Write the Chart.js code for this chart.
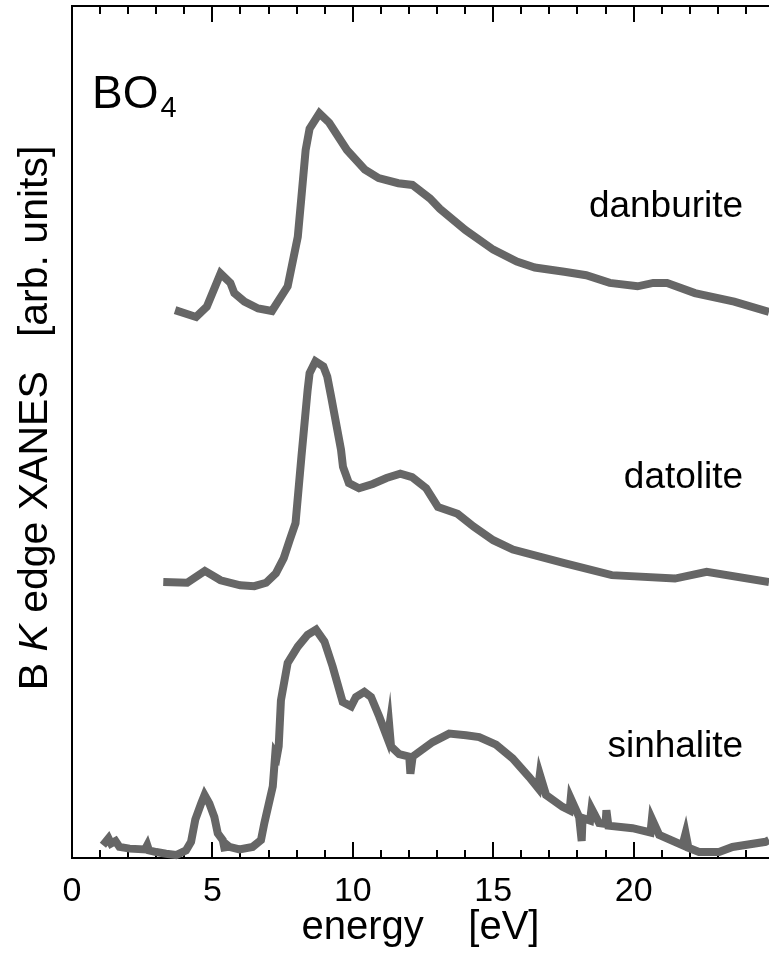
<!DOCTYPE html>
<html>
<head>
<meta charset="utf-8">
<title>B K-edge XANES of BO4 minerals</title>
<script src="https://cdn.jsdelivr.net/npm/chart.js@4.4.1/dist/chart.umd.min.js"></script>
<style>
  html, body { margin: 0; padding: 0; background: #fff; }
  #xanes { display: block; }
</style>
</head>
<body>
<canvas id="xanes" width="769" height="953"></canvas>
<script>
// Energy axis [eV]
const energyMin = 0;
const energyMax = 24.82;
const energyTickStep = 5;

// Stacked spectra, intensity in arbitrary units (offsets included)
const danburiteEnergy = [3.67, 4.42, 4.80, 5.29, 5.64, 5.78, 6.14, 6.63, 7.12, 7.68, 8.04, 8.17, 8.32, 8.46, 8.81, 9.16, 9.79, 10.43, 10.92, 11.62, 12.12, 12.75, 13.10, 14.01, 15.00, 15.84, 16.48, 17.53, 18.31, 19.15, 20.14, 20.70, 21.19, 22.18, 23.58, 24.82];
const danburiteIntensity = [64.3, 63.5, 64.7, 68.6, 67.5, 66.3, 65.3, 64.5, 64.2, 67.1, 72.9, 77.6, 83.1, 85.6, 87.4, 86.3, 83.1, 80.8, 79.8, 79.2, 79.0, 77.4, 76.2, 73.7, 71.4, 70.0, 69.3, 68.8, 68.4, 67.5, 67.1, 67.5, 67.5, 66.3, 65.3, 64.1];

const datoliteEnergy = [3.25, 4.10, 4.73, 5.29, 5.99, 6.49, 6.91, 7.26, 7.54, 7.75, 7.96, 8.17, 8.39, 8.46, 8.67, 8.95, 9.09, 9.23, 9.58, 9.65, 9.86, 10.22, 10.71, 11.20, 11.69, 12.11, 12.61, 13.03, 13.73, 14.30, 15.00, 15.70, 17.53, 19.22, 21.47, 22.60, 24.82];
const datoliteIntensity = [32.4, 32.3, 33.7, 32.6, 32.0, 31.9, 32.3, 33.4, 35.2, 37.3, 39.3, 47.1, 54.9, 56.9, 58.3, 57.7, 56.5, 54.1, 47.9, 45.9, 44.0, 43.4, 43.9, 44.6, 45.1, 44.7, 43.4, 41.2, 40.4, 38.9, 37.3, 36.2, 34.6, 33.2, 32.8, 33.6, 32.4];

const sinhaliteEnergy = [1.10, 1.30, 1.39, 1.55, 1.69, 2.05, 2.60, 2.68, 2.74, 3.00, 3.35, 3.71, 4.06, 4.24, 4.39, 4.60, 4.72, 4.89, 5.07, 5.19, 5.37, 5.45, 5.42, 5.60, 5.96, 6.43, 6.73, 6.85, 7.15, 7.24, 7.30, 7.36, 7.44, 7.68, 8.04, 8.39, 8.69, 8.99, 9.28, 9.64, 9.94, 10.11, 10.41, 10.65, 10.94, 11.24, 11.30, 11.36, 11.65, 12.01, 12.05, 12.13, 12.84, 13.43, 14.03, 14.50, 15.10, 15.69, 16.28, 16.60, 16.66, 16.88, 17.47, 17.72, 17.76, 18.06, 18.15, 18.18, 18.45, 18.50, 18.77, 19.00, 19.03, 19.10, 19.96, 20.60, 20.65, 20.91, 21.74, 21.85, 21.95, 22.33, 23.04, 23.52, 24.70, 24.82];
const sinhaliteIntensity = [1.5, 2.3, 1.7, 2.0, 1.3, 1.1, 1.0, 1.5, 0.9, 0.7, 0.5, 0.35, 0.9, 1.9, 4.5, 6.4, 7.4, 6.4, 4.8, 2.9, 2.1, 0.8, 1.8, 1.3, 1.0, 1.3, 2.1, 4.1, 8.4, 12.3, 12.0, 13.1, 18.5, 22.9, 24.8, 26.2, 26.8, 25.4, 22.5, 18.3, 17.8, 18.9, 19.5, 18.9, 16.6, 14.0, 15.4, 13.1, 12.2, 11.9, 9.9, 11.9, 13.6, 14.6, 14.4, 14.2, 13.3, 11.7, 9.5, 8.2, 9.8, 7.4, 6.0, 5.6, 7.0, 4.8, 2.0, 4.7, 4.4, 5.8, 4.1, 4.0, 5.6, 3.8, 3.5, 3.0, 4.6, 2.7, 1.5, 2.9, 1.2, 0.7, 0.7, 1.3, 1.9, 2.1];

// Spectrum names and where their labels sit (energy, intensity of baseline)
const spectrumNames = ['danburite', 'datolite', 'sinhalite'];
const nameEnergy = 23.9;
const nameLevels = [75.2, 43.4, 11.9];

const FONT = "'Liberation Sans', Arial, Helvetica, sans-serif";
const LINE_GREY = '#666666';

function toPoints(xs, ys) {
  return xs.map((x, i) => ({ x: x, y: ys[i] }));
}

function spectrum(xs, ys) {
  return {
    data: toPoints(xs, ys),
    borderColor: LINE_GREY,
    borderWidth: 8,
    borderJoinStyle: 'miter',
    borderCapStyle: 'butt',
    pointRadius: 0,
    tension: 0,
    fill: false,
    clip: false
  };
}

// inward tick marks on bottom and top axes, text labels
const decorations = {
  id: 'decorations',
  beforeDatasetsDraw(chart) {
    const ctx = chart.ctx;
    const xs = chart.scales.x;
    const area = chart.chartArea;
    ctx.save();
    ctx.strokeStyle = '#000';
    ctx.lineWidth = 2;
    for (let e = Math.ceil(xs.min); e <= xs.max; e++) {
      const px = Math.round(xs.getPixelForValue(e));
      const len = e % energyTickStep === 0 ? 16 : 8;
      ctx.beginPath();
      ctx.moveTo(px, area.bottom);
      ctx.lineTo(px, area.bottom - len);
      ctx.moveTo(px, area.top);
      ctx.lineTo(px, area.top + len);
      ctx.stroke();
    }
    ctx.restore();
  },
  afterDraw(chart) {
    const ctx = chart.ctx;
    const xs = chart.scales.x;
    const ys = chart.scales.y;
    ctx.save();
    ctx.fillStyle = '#000';
    ctx.textBaseline = 'alphabetic';

    // spectrum names
    ctx.font = '37px ' + FONT;
    ctx.textAlign = 'right';
    spectrumNames.forEach((name, i) => {
      ctx.fillText(name, xs.getPixelForValue(nameEnergy), ys.getPixelForValue(nameLevels[i]));
    });

    // BO4 tag
    ctx.textAlign = 'left';
    ctx.font = '46px ' + FONT;
    ctx.fillText('BO', 92, 108);
    const boWidth = ctx.measureText('BO').width;
    ctx.font = '29px ' + FONT;
    ctx.fillText('4', 92 + boWidth + 2, 117);

    // y-axis title with italic K
    const parts = [
      { text: 'B ', font: '41px ' + FONT },
      { text: 'K', font: 'italic 41px ' + FONT },
      { text: ' edge XANES   [arb. units]', font: '41px ' + FONT }
    ];
    let total = 0;
    parts.forEach(p => { ctx.font = p.font; p.w = ctx.measureText(p.text).width; total += p.w; });
    ctx.translate(47, 418);
    ctx.rotate(-Math.PI / 2);
    let pos = -total / 2;
    parts.forEach(p => {
      ctx.font = p.font;
      ctx.fillText(p.text, pos, 0);
      pos += p.w;
    });
    ctx.restore();
  }
};

new Chart(document.getElementById('xanes'), {
  type: 'line',
  data: {
    datasets: [
      spectrum(danburiteEnergy, danburiteIntensity),
      spectrum(datoliteEnergy, datoliteIntensity),
      spectrum(sinhaliteEnergy, sinhaliteIntensity)
    ]
  },
  options: {
    responsive: false,
    animation: false,
    layout: { padding: 0 },
    plugins: {
      legend: { display: false },
      tooltip: { enabled: false }
    },
    scales: {
      x: {
        type: 'linear',
        position: 'bottom',
        min: energyMin,
        max: energyMax,
        grid: { display: false, drawTicks: false },
        border: { display: true, color: '#000', width: 2 },
        ticks: {
          stepSize: energyTickStep,
          includeBounds: false,
          color: '#000',
          padding: 13,
          maxRotation: 0,
          font: { family: FONT, size: 34 }
        },
        title: {
          display: true,
          text: 'energy    [eV]',
          color: '#000',
          font: { family: FONT, size: 40 },
          padding: { top: 0, bottom: 1 }
        },
        afterFit(scale) { scale.height = 95; }
      },
      xTop: {
        type: 'linear',
        position: 'top',
        min: energyMin,
        max: energyMax,
        grid: { display: false, drawTicks: false },
        border: { display: true, color: '#000', width: 2 },
        ticks: { display: false },
        afterFit(scale) { scale.height = 6; }
      },
      y: {
        type: 'linear',
        min: 0,
        max: 100,
        grid: { display: false, drawTicks: false },
        border: { display: true, color: '#000', width: 2 },
        ticks: { display: false },
        afterFit(scale) { scale.width = 72; }
      }
    }
  },
  plugins: [decorations]
});
</script>
</body>
</html>
